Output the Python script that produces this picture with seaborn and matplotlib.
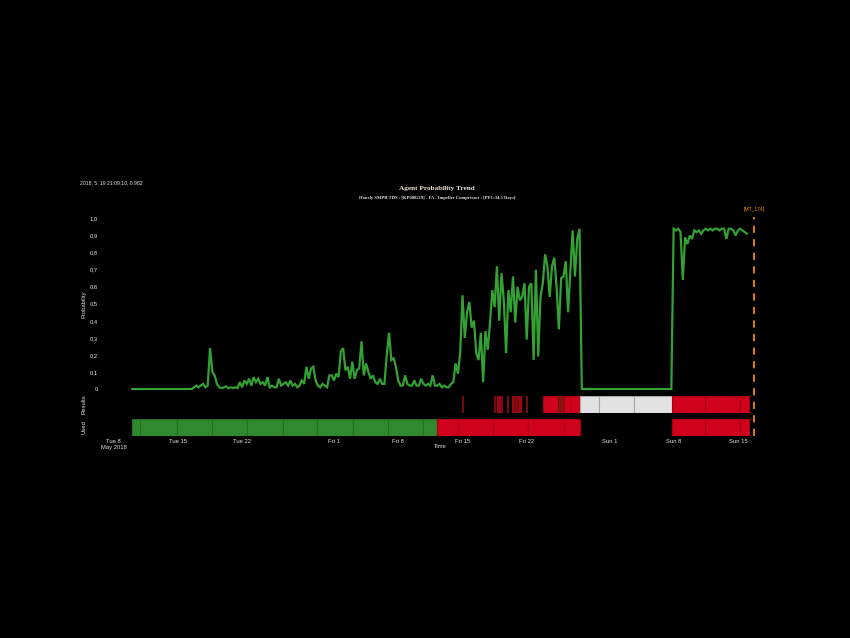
import pandas as pd
import matplotlib
matplotlib.use("Agg")
import matplotlib.pyplot as plt
import matplotlib.dates as mdates
import seaborn as sns

# Probabilite de l'agent : un point toutes les 6 heures a partir du 10 mai 2018
prob_start = "2018-05-10 00:00"
prob_quiet = [
    0.0, 0.0, 0.0, 0.0, 0.0, 0.0, 0.0, 0.0, 0.0, 0.0, 0.0, 0.0, 0.0, 0.0,
    0.0, 0.0, 0.0, 0.0, 0.0, 0.0, 0.0, 0.0, 0.0, 0.0, 0.0, 0.0, 0.0,
    0.01, 0.02, 0.01, 0.02, 0.03, 0.01, 0.02, 0.24, 0.10, 0.08, 0.03,
    0.01, 0.005, 0.01, 0.015, 0.005, 0.01, 0.005, 0.01, 0.005,
    0.04, 0.01, 0.05, 0.03, 0.06, 0.02, 0.07, 0.04, 0.06, 0.03, 0.04, 0.02,
    0.07, 0.01, 0.02, 0.01, 0.01, 0.06, 0.02, 0.03, 0.04, 0.02, 0.05, 0.02,
    0.03, 0.01, 0.02, 0.05, 0.03, 0.13, 0.06, 0.12, 0.13, 0.05, 0.02, 0.01,
    0.03, 0.02, 0.01, 0.08,
    0.08, 0.05, 0.09, 0.07, 0.22, 0.24, 0.11, 0.13, 0.06, 0.16, 0.06, 0.11,
    0.12, 0.28, 0.08, 0.15, 0.10, 0.06, 0.08, 0.04, 0.03, 0.06, 0.03, 0.03,
    0.20, 0.33, 0.17, 0.18, 0.13, 0.05, 0.02, 0.02, 0.08, 0.03, 0.02, 0.02,
    0.05, 0.02, 0.02, 0.06, 0.03, 0.02, 0.03, 0.02, 0.08, 0.02, 0.02, 0.03,
    0.01, 0.02, 0.01, 0.01, 0.03, 0.04, 0.15, 0.09,
]
prob_rising = [
    0.21, 0.55, 0.30, 0.45, 0.51, 0.36, 0.40, 0.21, 0.17, 0.33, 0.04, 0.34,
    0.23, 0.39, 0.58, 0.48, 0.72, 0.40, 0.68, 0.52, 0.21, 0.58, 0.45, 0.66,
    0.39, 0.60, 0.52, 0.54, 0.62, 0.29, 0.60, 0.62, 0.17, 0.70, 0.19, 0.54,
    0.62, 0.79, 0.72, 0.54, 0.72, 0.77, 0.60, 0.35, 0.65, 0.66, 0.75, 0.45,
    0.69, 0.93, 0.66, 0.88, 0.94,
]
prob_stopped = [
    0.0, 0.0, 0.0, 0.0, 0.0, 0.0, 0.0, 0.0, 0.0, 0.0,
    0.0, 0.0, 0.0, 0.0, 0.0, 0.0, 0.0, 0.0, 0.0, 0.0,
    0.0, 0.0, 0.0, 0.0, 0.0, 0.0, 0.0, 0.0, 0.0, 0.0,
    0.0, 0.0, 0.0, 0.0, 0.0, 0.0, 0.0, 0.0, 0.0, 0.0,
]
prob_high = [
    0.94, 0.93, 0.94, 0.92, 0.64, 0.89, 0.85, 0.90, 0.88, 0.93, 0.92, 0.93,
    0.91, 0.93, 0.94, 0.93, 0.94, 0.93, 0.94, 0.94, 0.93, 0.94, 0.94, 0.88,
    0.94, 0.94, 0.93, 0.90, 0.93, 0.94, 0.93, 0.92, 0.91,
]

# Bande "Used" : debut, fin, etat
used_start = ["2018-05-10 00:00", "2018-05-10 21:00", "2018-05-14 22:00", "2018-05-18 17:00",
              "2018-05-22 12:00", "2018-05-26 11:00", "2018-05-30 04:00", "2018-06-03 01:00",
              "2018-06-06 22:00", "2018-06-10 17:00", "2018-06-12 05:00", "2018-06-14 12:00",
              "2018-06-18 07:00", "2018-06-22 02:00", "2018-06-26 01:00", "2018-07-07 19:00",
              "2018-07-11 10:00", "2018-07-15 05:00"]
used_end = ["2018-05-10 21:00", "2018-05-14 22:00", "2018-05-18 17:00", "2018-05-22 12:00",
            "2018-05-26 11:00", "2018-05-30 04:00", "2018-06-03 01:00", "2018-06-06 22:00",
            "2018-06-10 17:00", "2018-06-12 05:00", "2018-06-14 12:00", "2018-06-18 07:00",
            "2018-06-22 02:00", "2018-06-26 01:00", "2018-06-27 19:00", "2018-07-11 10:00",
            "2018-07-15 05:00", "2018-07-16 05:00"]
used_state = ["normal"] * 10 + ["alarm"] * 8

# Bande "Results"
res_start = ["2018-06-14 23:00", "2018-06-18 10:00", "2018-06-18 18:00", "2018-06-18 23:00",
             "2018-06-19 05:00", "2018-06-19 20:00", "2018-06-20 09:00", "2018-06-20 15:00",
             "2018-06-20 20:00", "2018-06-20 22:00", "2018-06-21 04:00", "2018-06-21 06:00",
             "2018-06-21 22:00",
             "2018-06-23 18:00", "2018-06-25 10:00", "2018-06-26 01:00", "2018-06-26 16:00",
             "2018-06-26 18:00",
             "2018-06-27 19:00", "2018-06-29 21:00", "2018-07-03 16:00",
             "2018-07-07 19:00", "2018-07-11 10:00", "2018-07-15 05:00"]
res_end = ["2018-06-15 01:00", "2018-06-18 12:00", "2018-06-18 20:00", "2018-06-19 01:00",
           "2018-06-19 07:00", "2018-06-19 22:00", "2018-06-20 11:00", "2018-06-20 17:00",
           "2018-06-20 22:00", "2018-06-21 00:00", "2018-06-21 06:00", "2018-06-21 08:00",
           "2018-06-22 00:00",
           "2018-06-25 10:00", "2018-06-26 01:00", "2018-06-26 16:00", "2018-06-26 18:00",
           "2018-06-27 19:00",
           "2018-06-29 21:00", "2018-07-03 16:00", "2018-07-07 19:00",
           "2018-07-11 10:00", "2018-07-15 05:00", "2018-07-16 05:00"]
res_state = ["mark", "mark", "alarm", "alarm", "mark", "mark", "alarm", "mark",
             "alarm", "mark", "alarm", "alarm", "mark",
             "alarm", "mark", "alarm", "mark", "alarm",
             "idle", "idle", "idle",
             "alarm", "alarm", "alarm"]

state_fill = {"normal": "#2f8a2f", "alarm": "#d0021b", "mark": "#8a1414", "idle": "#e2e2e2"}
state_edge = {"normal": "#256f25", "alarm": "#a80015", "mark": "#6e1010", "idle": "#a9a9a9"}

tick_dates = ["2018-05-08", "2018-05-15", "2018-05-22", "2018-06-01", "2018-06-08",
              "2018-06-15", "2018-06-22", "2018-07-01", "2018-07-08", "2018-07-15"]
tick_labels = ["Tue 8\nMay 2018", "Tue 15", "Tue 22", "Fri 1", "Fri 8",
               "Fri 15", "Fri 22", "Sun 1", "Sun 8", "Sun 15"]
prob_ticks = [0, 0.1, 0.2, 0.3, 0.4, 0.5, 0.6, 0.7, 0.8, 0.9, 1.0]
prob_tick_labels = ["0", "0,1", "0,2", "0,3", "0,4", "0,5", "0,6", "0,7", "0,8", "0,9", "1,0"]

marker_time = "2018-07-16 18:00"
marker_label = "[MT_174]"

txt = "#e8e0d8"
sns.set_theme(style="dark", rc={
    "figure.facecolor": "black", "axes.facecolor": "black", "savefig.facecolor": "black",
    "text.color": txt, "axes.labelcolor": txt, "xtick.color": txt, "ytick.color": txt,
})
plt.rcParams["font.family"] = ["Liberation Sans", "DejaVu Sans"]

prob = prob_quiet + prob_rising + prob_stopped + prob_high
df = pd.DataFrame({
    "time": pd.date_range(prob_start, periods=len(prob), freq="6h"),
    "prob": prob,
})

fig = plt.figure(figsize=(8.5, 6.38), dpi=100)
ax = fig.add_axes([0.1229, 0.3876, 0.7668, 0.2726])
ax_res = fig.add_axes([0.1229, 0.3527, 0.7668, 0.0266], sharex=ax)
ax_used = fig.add_axes([0.1229, 0.3166, 0.7668, 0.0266], sharex=ax)
ax.set_zorder(3)
ax.patch.set_visible(False)

sns.lineplot(data=df, x="time", y="prob", ax=ax, color="#33a133", linewidth=1.6)
ax.lines[0].set_solid_joinstyle("miter")


def draw_band(axis, starts, ends, states):
    s = mdates.date2num(pd.to_datetime(starts))
    e = mdates.date2num(pd.to_datetime(ends))
    axis.barh([0] * len(s), e - s, left=s, height=1.0,
              color=[state_fill[k] for k in states],
              edgecolor=[state_edge[k] for k in states], linewidth=0.8)
    axis.set_ylim(-0.5, 0.5)
    axis.set_yticks([])


draw_band(ax_res, res_start, res_end, res_state)
draw_band(ax_used, used_start, used_end, used_state)

ax.set_xlim(pd.Timestamp("2018-05-07"), pd.Timestamp("2018-07-17"))
ax.set_ylim(-0.01, 1.01)
ax.set_yticks(prob_ticks)
ax.set_yticklabels(prob_tick_labels)
ax_used.set_xticks(pd.to_datetime(tick_dates))
ax_used.set_xticklabels(tick_labels)

for a in (ax, ax_res, ax_used):
    for sp in a.spines.values():
        sp.set_visible(False)
    a.grid(False)
    a.tick_params(length=0, labelsize=4.2)
ax.tick_params(axis="y", pad=4.5)
ax.tick_params(axis="x", labelbottom=False)
ax_res.tick_params(axis="x", labelbottom=False)
ax_used.tick_params(axis="x", pad=2)

ax.set_xlabel("")
ax.set_ylabel("Probability", fontsize=4.2)
ax_res.set_ylabel("Results", fontsize=4.2)
ax_used.set_ylabel("Used", fontsize=4.2)
for a in (ax, ax_res, ax_used):
    a.yaxis.set_label_coords(-0.028, 0.5)
ax_used.set_xlabel("Time", fontsize=4.2)
ax_used.xaxis.set_label_coords(0.515, -0.45)

# ligne de reference orange (traverse les trois bandes)
mt = pd.Timestamp(marker_time)
ax.axvline(mt, ymin=-0.262, ymax=1.0, clip_on=False, color="#f08a00",
           linewidth=1.3, linestyle=(0, (4, 3.5)))
ax.text(mt, 1.025, marker_label, transform=ax.get_xaxis_transform(),
        ha="center", va="bottom", fontsize=3.6, color="#f08a00")

fig.text(0.514, 0.704, "Agent Probability Trend", ha="center", va="center",
         fontsize=5.2, fontweight="bold", family=["Liberation Serif", "DejaVu Serif"])
fig.text(0.514, 0.690,
         "Hourly SMPR TDS : [KP000219] - FA - Impeller Compressor : [PFI=34,5 Days]",
         ha="center", va="center", fontsize=3.3, fontweight="bold",
         family=["Liberation Serif", "DejaVu Serif"])
fig.text(0.094, 0.713, "2018. 5. 19 21:09:10, 0.982", ha="left", va="center", fontsize=3.7)

fig.savefig("out.png", dpi=100, facecolor="black")
